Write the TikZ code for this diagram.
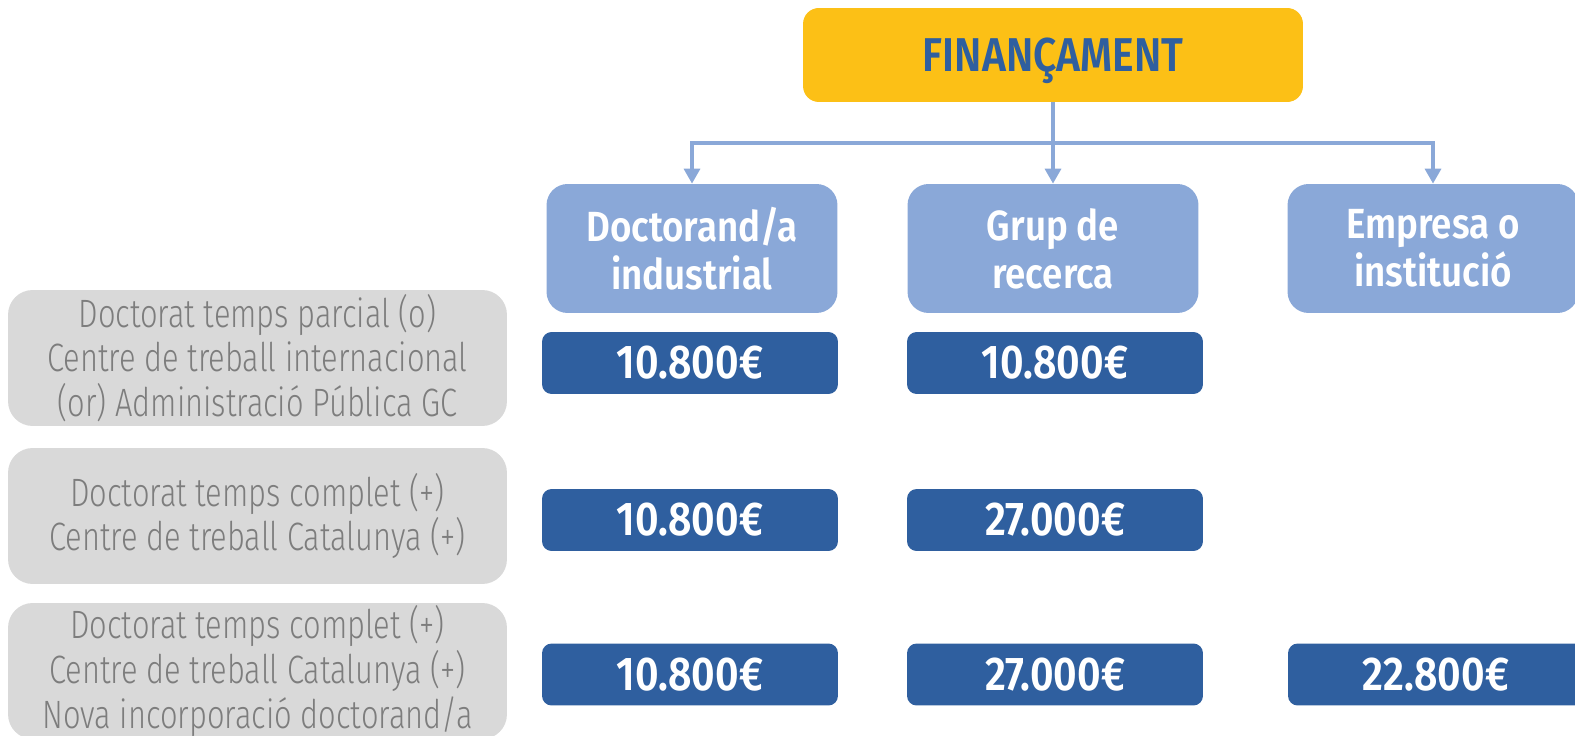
\documentclass[tikz,border=0pt]{standalone}
\usepackage{fontspec}
\setmainfont{Fira Sans}
\newfontfamily\boldfont{Fira Sans SemiBold}[FakeStretch=0.86]
\newfontfamily\headfont{Fira Sans SemiBold}[FakeStretch=0.87]
\newfontfamily\lightfont{Fira Sans Light}[FakeStretch=0.78]
\usepackage{tikz}
\usetikzlibrary{arrows.meta}
\definecolor{gold}{HTML}{FCC016}
\definecolor{lblue}{HTML}{8AA8D8}
\definecolor{dblue}{HTML}{2F5F9F}
\definecolor{lgrey}{HTML}{D9D9D9}
\definecolor{tgrey}{HTML}{7D7D7D}

\tikzset{
    topbox/.style={fill=gold, rounded corners=9pt, minimum width=10cm, minimum height=1.88cm,
        text depth=0pt, text=dblue, font=\boldfont\fontsize{27}{30}\selectfont},
    headbox/.style={fill=lblue, rounded corners=12pt, minimum width=5.82cm, minimum height=2.58cm,
        text=white, align=center, font=\headfont\fontsize{24}{27.4}\selectfont},
    valbox/.style={fill=dblue, rounded corners=5.5pt, minimum width=5.92cm, minimum height=1.24cm,
        text=white, font=\boldfont\fontsize{27}{30}\selectfont},
    casebox/.style={fill=lgrey, rounded corners=14pt, minimum width=9.98cm, minimum height=2.72cm,
        text=tgrey, align=center, font=\lightfont\fontsize{22.5}{25.5}\selectfont},
    conn/.style={lblue, line width=2pt},
}

\begin{document}
\begin{tikzpicture}[x=0.02cm, y=-0.02cm, inner sep=0pt]
            \clip (0,0) rectangle (1575,736);
            \node[topbox] (fin) at (1053, 55) {FINANÇAMENT};

            \node[headbox] (h1) at (692, 248.5) {Doctorand/a\\industrial};
            \node[headbox] (h2) at (1053, 248.5) {Grup de\\recerca};
            \node[headbox] (h3) at (1433, 248.5) {Empresa o\\institució};

            \node[casebox] (c1) at (257.5, 358) {Doctorat temps parcial (o)\\Centre de treball internacional\\(or) Administració Pública GC};
            \node[casebox] (c2) at (257.5, 516) {Doctorat temps complet (+)\\Centre de treball Catalunya (+)};
            \node[casebox] (c3) at (257.5, 671) {Doctorat temps complet (+)\\Centre de treball Catalunya (+)\\Nova incorporació doctorand/a};

            \node[valbox] (v11) at (690, 363) {10.800€};
            \node[valbox] (v12) at (1055, 363) {10.800€};
            \node[valbox] (v21) at (690, 520) {10.800€};
            \node[valbox] (v22) at (1055, 520) {27.000€};
            \node[valbox] (v31) at (690, 674.5) {10.800€};
            \node[valbox] (v32) at (1055, 674.5) {27.000€};
            \node[valbox] (v33) at (1436, 674.5) {22.800€};

            \coordinate (bar) at (1053, 143);
            \draw[conn] (fin) -- (bar);
            \draw[conn, -{Triangle[length=8.5pt, width=9pt]}] (bar) -- (h2);
            \draw[conn, -{Triangle[length=8.5pt, width=9pt]}] (bar) -| (h1);
            \draw[conn, -{Triangle[length=8.5pt, width=9pt]}] (bar) -| (h3);
    	\end{tikzpicture}
\end{document}
